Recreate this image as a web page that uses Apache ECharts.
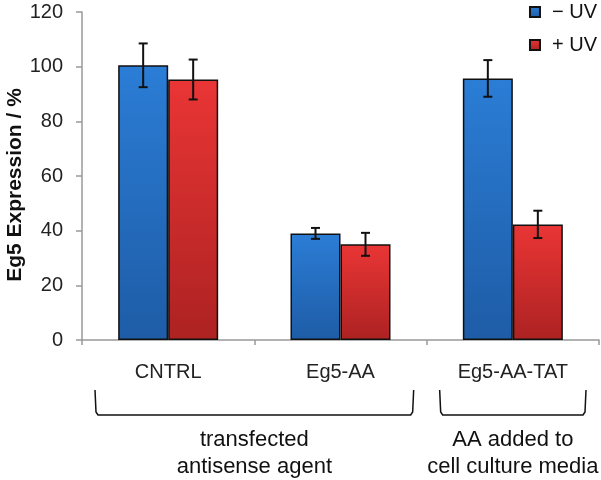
<!DOCTYPE html>
<html>
<head>
<meta charset="utf-8">
<script src="https://cdn.jsdelivr.net/npm/echarts@6/dist/echarts.min.js"></script>
<style>
html,body{margin:0;padding:0;background:#fff;}
#chart{width:601px;height:480px;}
</style>
</head>
<body>
<div id="chart"></div>
<script>
var categories = ['CNTRL', 'Eg5-AA', 'Eg5-AA-TAT'];
var seriesNames = ['\u2212 UV', '+ UV'];
var minusUV = [100.5, 39, 95.7];
var minusUVErr = [8, 2, 6.7];
var plusUV = [95.3, 35, 42.3];
var plusUVErr = [7.3, 4.2, 5];
var yTicks = [0, 20, 40, 60, 80, 100, 120];
var yTitle = 'Eg5 Expression / %';
var groupLabels = [
  { text: 'transfected\nantisense agent', from: 0, to: 1 },
  { text: 'AA added to\ncell culture media', from: 2, to: 2 }
];

var FONT = '"Liberation Sans", Arial, sans-serif';

var chart = echarts.init(document.getElementById('chart'), null, { renderer: 'canvas' });

function grad(top, bottom) {
  return new echarts.graphic.LinearGradient(0, 0, 0, 1, [
    { offset: 0, color: top }, { offset: 1, color: bottom }
  ]);
}

function errSeries(vals, errs, offset) {
  var data = vals.map(function (v, i) { return [i, v - errs[i], v + errs[i]]; });
  return {
    type: 'custom',
    silent: true,
    z: 10,
    data: data,
    renderItem: function (params, api) {
      var i = api.value(0);
      var lo = api.coord([i, api.value(1)]);
      var hi = api.coord([i, api.value(2)]);
      var x = lo[0] + offset;
      var cap = 4.5;
      var style = { stroke: '#111', lineWidth: 2 };
      return {
        type: 'group',
        children: [
          { type: 'line', shape: { x1: x, y1: hi[1], x2: x, y2: lo[1] }, style: style },
          { type: 'line', shape: { x1: x - cap, y1: hi[1], x2: x + cap, y2: hi[1] }, style: style },
          { type: 'line', shape: { x1: x - cap, y1: lo[1], x2: x + cap, y2: lo[1] }, style: style }
        ]
      };
    }
  };
}

var BW = 50;

var option = {
  animation: false,
  backgroundColor: '#fff',
  grid: { left: 82, right: 2, top: 12, bottom: 140, containLabel: false, outerBoundsMode: 'none' },
  legend: {
    orient: 'vertical',
    right: 4,
    top: 0,
    padding: [2, 0, 0, 0],
    itemWidth: 10,
    itemHeight: 10,
    itemGap: 13,
    icon: 'rect',
    textStyle: { fontFamily: FONT, fontSize: 20, color: '#111', padding: [0, 0, 0, 7] },
    data: seriesNames
  },
  xAxis: {
    type: 'category',
    data: categories,
    axisLine: { lineStyle: { color: '#999', width: 1.5 } },
    axisTick: { show: true, length: 5, lineStyle: { color: '#999', width: 1.5 } },
    axisLabel: { fontFamily: FONT, fontSize: 20, color: '#222', margin: 22 }
  },
  yAxis: {
    type: 'value',
    min: 0,
    max: 120,
    interval: 20,
    axisLine: { show: true, lineStyle: { color: '#999', width: 1.5 } },
    axisTick: { show: true, length: 6, lineStyle: { color: '#999', width: 1.5 } },
    splitLine: { show: false },
    axisLabel: {
      fontFamily: FONT, fontSize: 20, color: '#222', margin: 19,
      formatter: function (v) { return yTicks.indexOf(v) >= 0 ? String(v) : ''; }
    }
  },
  series: [
    {
      name: seriesNames[0],
      type: 'bar',
      data: minusUV,
      barWidth: BW,
      barGap: '0%',
      itemStyle: { color: grad('#2b7dd6', '#1e5ca6'), borderColor: '#111', borderWidth: 1.5 }
    },
    {
      name: seriesNames[1],
      type: 'bar',
      data: plusUV,
      barWidth: BW,
      barGap: '0%',
      itemStyle: { color: grad('#ea3535', '#ad2222'), borderColor: '#111', borderWidth: 1.5 }
    },
    errSeries(minusUV, minusUVErr, -BW / 2),
    errSeries(plusUV, plusUVErr, BW / 2)
  ]
};

chart.setOption(option);

function buildGroups() {
  var els = [];
  els.push({
    type: 'text',
    x: 15,
    y: 185,
    rotation: Math.PI / 2,
    style: {
      text: yTitle, font: 'bold 21px ' + FONT, fill: '#111',
      textAlign: 'center', textVerticalAlign: 'middle'
    }
  });
  var catW = chart.convertToPixel({ xAxisIndex: 0 }, 1) - chart.convertToPixel({ xAxisIndex: 0 }, 0);
  groupLabels.forEach(function (g) {
    var xl = chart.convertToPixel({ xAxisIndex: 0 }, g.from) - catW / 2 + 13;
    var xr = chart.convertToPixel({ xAxisIndex: 0 }, g.to) + catW / 2 - 13;
    var top = 390, bot = 415, r = 3;
    els.push({
      type: 'polyline',
      shape: {
        points: [[xl, top], [xl + 1, bot - r], [xl + r, bot], [xr - r, bot], [xr - 1, bot - r], [xr, top]]
      },
      style: { fill: null, stroke: '#111', lineWidth: 1.5 }
    });
    els.push({
      type: 'text',
      x: (xl + xr) / 2,
      y: 426,
      style: {
        text: g.text, font: '22px ' + FONT, fill: '#111',
        textAlign: 'center', textVerticalAlign: 'top', lineHeight: 27
      }
    });
  });
  chart.setOption({ graphic: { elements: els } });
}
buildGroups();
</script>
</body>
</html>
